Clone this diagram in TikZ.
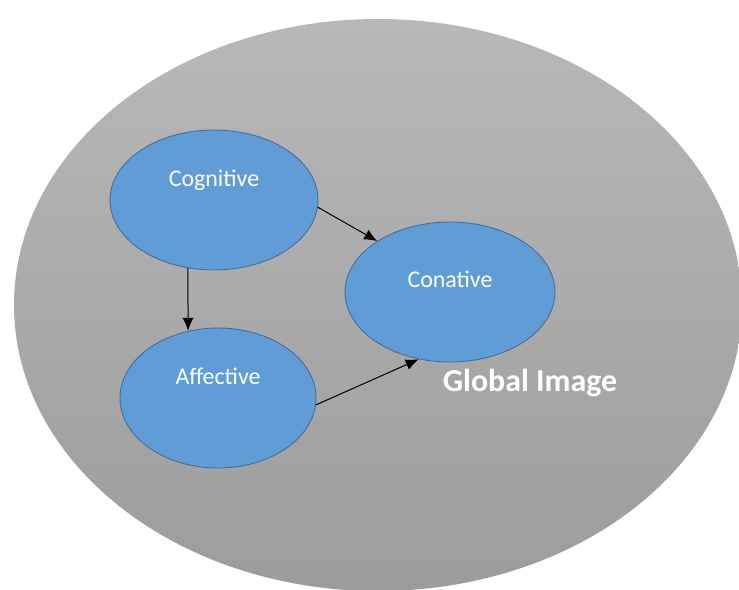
\documentclass[tikz,border=0pt]{standalone}
\usepackage{fontspec}
\setmainfont{Carlito}
\usepackage{xcolor}
\usetikzlibrary{shapes,arrows.meta,positioning}

\definecolor{bgtop}{RGB}{184,184,184}
\definecolor{bgbottom}{RGB}{156,156,156}
\definecolor{dimblue}{RGB}{96,157,214}
\definecolor{dimedge}{RGB}{66,112,155}

\begin{document}
\begin{tikzpicture}[x=1bp, y=-1bp,
    dim/.style={ellipse, draw=dimedge, fill=dimblue, line width=0.9bp, inner sep=0pt},
    lbl/.style={text=white, font=\fontsize{24}{28}\selectfont},
    arrow/.style={-{Latex[length=13bp, width=11bp]}, line width=1bp}
]
    \useasboundingbox (0,0) rectangle (739,590);

    % Global image
    \node[ellipse, inner sep=0pt, minimum width=728bp, minimum height=572bp,
          top color=bgtop, bottom color=bgbottom] (global) at (378,305) {};
    \node[text=white, font=\bfseries\fontsize{32}{36}\selectfont] (title) at (530,383) {Global Image};

    % Image components
    \node[dim, minimum width=208bp, minimum height=140bp,
          label={[lbl, yshift=20bp]center:Cognitive}] (cognitive) at (214,200) {};
    \node[dim, minimum width=210bp, minimum height=140bp,
          label={[lbl, yshift=13bp]center:Conative}] (conative) at (450,292) {};
    \node[dim, minimum width=196bp, minimum height=140bp,
          label={[lbl, yshift=22bp]center:Affective}] (affective) at (218,398) {};

    % Relations
    \draw[arrow] (cognitive.356) -- (conative.145);
    \draw[arrow] (cognitive.249) -- (affective.114);
    \draw[arrow] (affective.356) -- (conative.245);
\end{tikzpicture}
\end{document}
